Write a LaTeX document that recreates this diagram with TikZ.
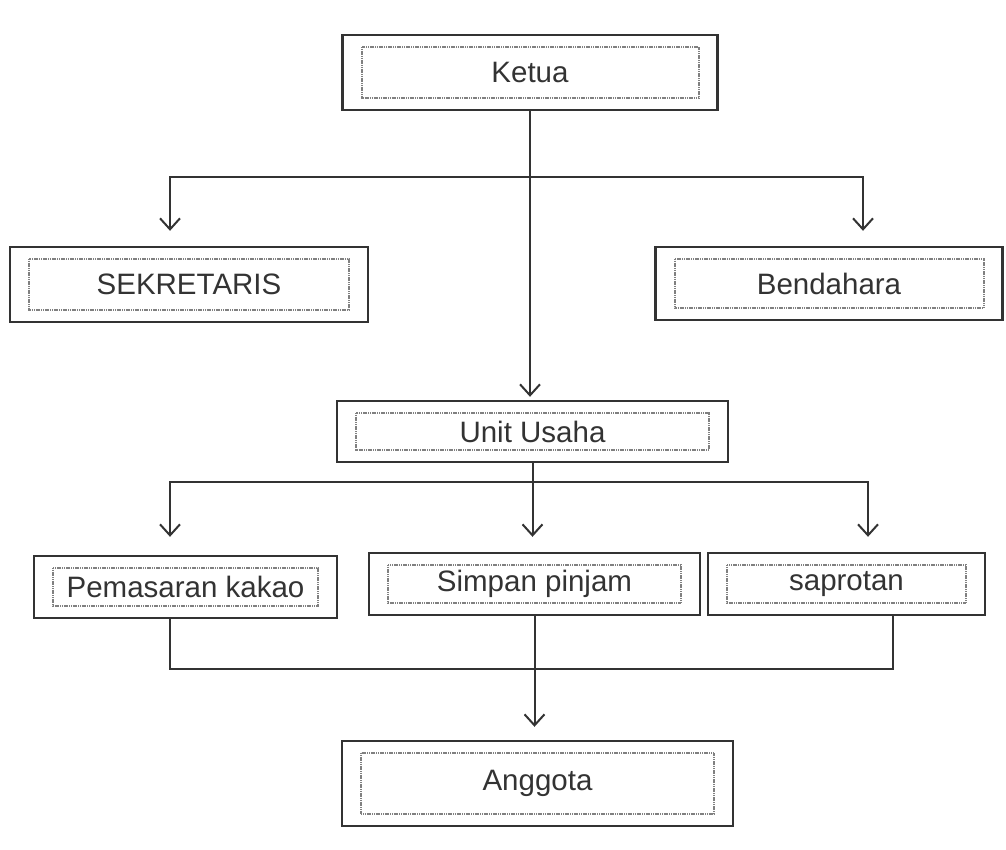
\documentclass[tikz,border=0pt]{standalone}
\usepackage{fontspec}
\setmainfont{Liberation Sans}
\usetikzlibrary{arrows.meta}

\begin{document}
\begin{tikzpicture}[
    x=1pt, y=-1pt,
    font=\fontsize{29.5}{34}\selectfont,
    >={Straight Barb[length=11pt,width=20pt]},
    post/.style={
      draw=black!80,
      line width=2.4pt,
      text=black!80,
      inner sep=0pt,
      path picture={
        \draw[black!50, line width=2pt, dash pattern=on 1.2pt off 0.6pt]
          ([shift={(19pt,-12pt)}]path picture bounding box.north west) rectangle
          ([shift={(-19pt,12pt)}]path picture bounding box.south east);
      }
    },
    link/.style={line width=2pt, draw=black!80},
    flow/.style={link, ->}
  ]
    \useasboundingbox (0,0) rectangle (1006,850);

    % boxes
    \node[post, minimum width=375pt, minimum height=75pt] (ketua) at (530,72.5) {Ketua};
    \node[post, minimum width=358pt, minimum height=75pt] (sek) at (189,284.5) {SEKRETARIS};
    \node[post, minimum width=347pt, minimum height=73pt] (bend) at (829,283.5) {Bendahara};
    \node[post, minimum width=391pt, minimum height=61pt] (unit) at (532.5,431.5) {Unit Usaha};
    \node[post, minimum width=303pt, minimum height=62pt] (jual) at (185.5,587) {Pemasaran kakao};
    \node[post, minimum width=331pt, minimum height=62pt] (pinjam) at (534.5,584) {Simpan pinjam};
    \node[post, minimum width=277pt, minimum height=62pt] (saprotan) at (846.5,584) {saprotan};
    \node[post, minimum width=391pt, minimum height=85pt] (anggota) at (537.5,783.5) {Anggota};

    % ketua to the row below
    \coordinate (topbus) at (ketua.south |- 0,177);
    \draw[flow, shorten >=3pt] (ketua.south) -- (ketua.south |- unit.north);
    \draw[flow, shorten >=15pt] (topbus) -| ([xshift=-19pt]sek.north);
    \draw[flow, shorten >=15pt] (topbus) -| ([xshift=34pt]bend.north);

    % unit usaha to its three units
    \coordinate (midbus) at (unit.south |- 0,482);
    \draw[link] (unit.south) -- (midbus);
    \draw[flow, shorten >=18pt] (midbus) -| ([xshift=-15.5pt]jual.north);
    \draw[flow, shorten >=15pt] (midbus) -- (midbus |- pinjam.north);
    \draw[flow, shorten >=15pt] (midbus) -| ([xshift=21.5pt]saprotan.north);

    % units down to anggota
    \coordinate (lowbus) at (pinjam.south |- 0,669);
    \coordinate (jualfoot) at ([xshift=-15.5pt]jual.south);
    \coordinate (sapfoot) at ([xshift=46.5pt]saprotan.south);
    \draw[link] (jualfoot) |- (sapfoot |- lowbus) -- (sapfoot);
    \draw[flow, shorten >=13pt] (pinjam.south) -- (pinjam.south |- anggota.north);
  \end{tikzpicture}
\end{document}
